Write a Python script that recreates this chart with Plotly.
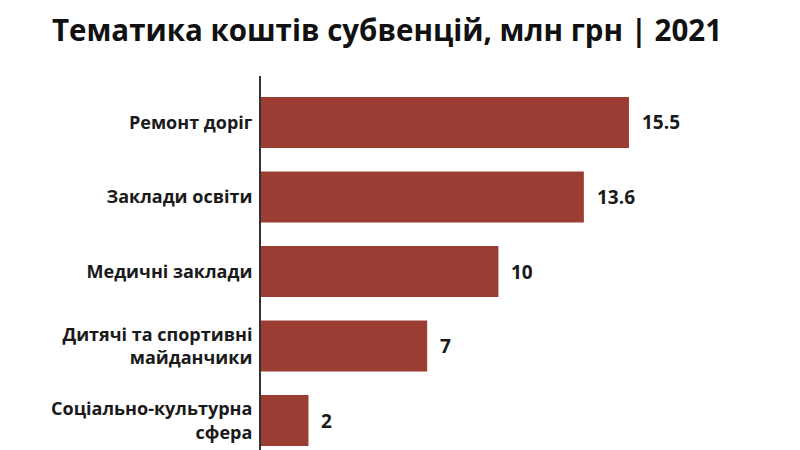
import plotly.graph_objects as go

categories = ["Ремонт доріг", "Заклади освіти", "Медичні заклади",
              "Дитячі та спортивні<br>майданчики", "Соціально-культурна<br>сфера"]
values = [15.5, 13.6, 10, 7, 2]
value_labels = ["15.5", "13.6", "10", "7", "2"]

BAR = "#9c3d33"
FONT = "Open Sans"

fig = go.Figure(go.Bar(
    x=values, y=categories, orientation="h",
    marker=dict(color=BAR, line=dict(width=0)),
    width=0.685, hoverinfo="skip",
))

for v, c, t in zip(values, categories, value_labels):
    fig.add_annotation(x=v, y=c, text=f"<b>{t}</b>", showarrow=False,
                       xanchor="left", xshift=11,
                       font=dict(family=FONT, size=19, color="#1a1a1a"))

fig.update_layout(
    width=800, height=450,
    margin=dict(l=253, r=28, t=68, b=0, autoexpand=False),
    paper_bgcolor="white", plot_bgcolor="white",
    showlegend=False,
    title=dict(text="<b>Тематика коштів субвенцій, млн грн | 2021</b>",
               x=379/800, xanchor="center", xref="container",
               y=1 - 23/450, yanchor="middle", yref="container",
               font=dict(family=FONT, size=29.5, color="#111111")),
    xaxis=dict(range=[0, 519/23.74], visible=False, fixedrange=True, automargin=False),
    yaxis=dict(type="category", categoryorder="array", categoryarray=categories,
               range=[4.503, -0.624], showgrid=False, zeroline=False,
               showline=True, linecolor="#333333", linewidth=2,
               ticks="", ticklabelstandoff=3, automargin=False,
               tickfont=dict(family=FONT, size=18, color="#1a1a1a")),
    font=dict(family=FONT),
)
fig.update_yaxes(tickprefix="<b>", ticksuffix="</b>")

fig.write_html("out.html")
